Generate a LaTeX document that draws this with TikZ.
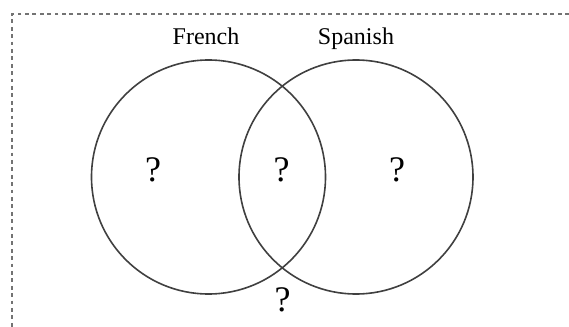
\documentclass[tikz,border=0pt]{standalone}
\usepackage{fontspec}
\setmainfont{Liberation Serif}
\tikzset{
    ring/.style={draw=black!75, line width=0.8pt},
    setlabel/.style={anchor=base, inner sep=0pt, font=\fontsize{12}{14}\selectfont},
    qmark/.style={anchor=base, inner sep=0pt, font=\fontsize{18}{20}\selectfont},
    frame/.style={draw=black!55, line width=0.6pt, dash pattern=on 1.9pt off 1.8pt}
}
\begin{document}
\begin{tikzpicture}[x=0.5pt, y=-0.5pt]
        \useasboundingbox (0,0) rectangle (569,327);
        %dotted frame
        \coordinate (frameTR) at (569,14);
        \coordinate (frameTL) at (12,14);
        \coordinate (frameBL) at (12,327.5);
        \coordinate (frameBR) at (569,327.5);
        \draw [frame] (frameTR) -- (frameTL) -- (frameBL) -- (frameBR);
        
        %left circle
        \draw [ring] (208.5,177) circle [radius=117];
        %right circle
        \draw [ring] (356,177) circle [radius=117];
        
        \node [setlabel] (french) at (206,44) {French};
        \node [setlabel] (spanish) at (356,44) {Spanish};
        
        \node [qmark] (onlyFrench) at (153,181) {?};
        \node [qmark] (both) at (281.5,181) {?};
        \node [qmark] (onlySpanish) at (397,181) {?};
        
        % poza kołami
        \node [qmark] (neither) at (282.5,311) {?};
    \end{tikzpicture}
\end{document}
